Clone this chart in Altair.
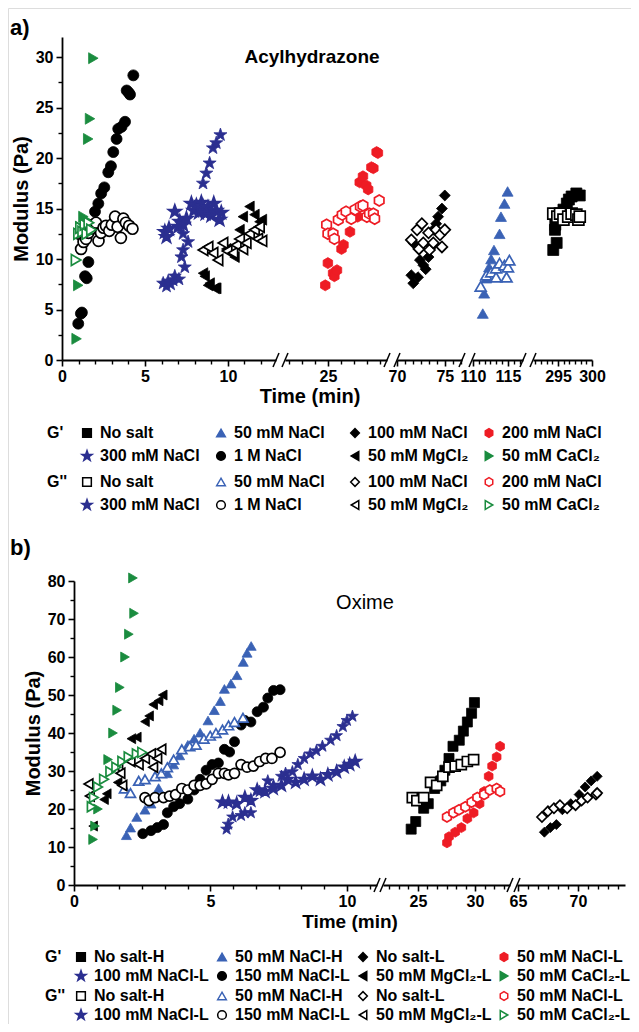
import altair as alt
import pandas as pd

# ------------------------------------------------------------------ data
A_LABELS = ["No salt", "50 mM NaCl", "100 mM NaCl", "200 mM NaCl",
            "300 mM NaCl", "1 M NaCl", "50 mM MgCl₂", "50 mM CaCl₂"]
B_LABELS = ["No salt-H", "50 mM NaCl-H", "No salt-L", "50 mM NaCl-L",
            "100 mM NaCl-L", "150 mM NaCl-L", "50 mM MgCl₂-L", "50 mM CaCl₂-L"]

# panel a (Acylhydrazone): (time min, modulus Pa)
a_gp_nosalt = [(294.3, 10.9), (294.55, 12.9), (294.6, 13.4), (294.8, 11.6), (295.3, 14.2), (295.8, 14.9),
               (296.3, 15.5), (296.6, 15.9), (297.0, 16.2), (297.7, 16.5), (298.2, 16.3)]
a_gpp_nosalt = [(294.3, 14.5), (294.9, 14.2), (295.3, 14.5), (295.8, 13.9), (296.5, 14.2), (297.0, 14.5),
                (297.7, 14.4), (298.0, 13.9), (298.2, 14.2)]
a_gp_50 = [(111.4, 4.6), (111.6, 6.6), (111.9, 8.1), (112.3, 9.2), (112.6, 10.0), (113.0, 10.9),
           (113.8, 12.5), (114.0, 14.2), (114.5, 15.5), (114.95, 16.7)]
a_gpp_50 = [(111.1, 7.3), (111.9, 8.4), (112.6, 8.7), (113.3, 8.2), (113.3, 9.1), (113.8, 9.6),
            (114.5, 9.4), (114.8, 8.2), (115.0, 9.2), (115.2, 9.9)]
a_gp_100 = [(71.5, 8.4), (71.7, 7.6), (71.7, 11.6), (72.2, 8.2), (72.4, 9.9), (72.75, 9.4), (73.0, 9.0),
            (73.3, 10.2), (73.6, 11.2), (73.8, 12.9), (74.1, 13.5), (74.3, 14.2), (74.7, 15.0), (75.0, 16.3)]
a_gpp_100 = [(71.5, 11.9), (72.1, 12.9), (72.3, 11.0), (72.6, 13.5), (72.75, 11.6), (73.3, 12.6),
             (73.4, 10.9), (73.8, 11.6), (74.1, 12.9), (74.5, 12.4), (74.7, 11.2), (75.0, 12.9)]
a_gp_200 = [(24.8, 7.4), (25.0, 9.6), (25.4, 8.6), (25.5, 8.3), (25.7, 8.9), (26.05, 11.0), (26.2, 11.4),
            (26.7, 12.7), (27.3, 14.2), (27.45, 17.6), (27.7, 18.2), (27.95, 17.3), (28.1, 16.9),
            (28.35, 19.1), (28.5, 19.0), (28.75, 20.6), (28.85, 20.5)]
a_gpp_200 = [(24.9, 13.4), (25.0, 12.5), (25.4, 12.5), (25.5, 12.0), (25.8, 13.9), (26.1, 14.4),
             (26.4, 14.7), (26.8, 14.0), (27.1, 14.9), (27.5, 15.2), (27.7, 15.3), (28.0, 14.2),
             (28.2, 14.5), (28.5, 14.5), (28.6, 14.0), (28.95, 15.8)]
a_gp_300 = [(6.1, 7.6), (6.3, 7.3), (6.4, 7.8), (6.55, 7.5), (6.7, 7.9), (6.8, 8.3), (7.05, 8.0),
            (7.2, 10.2), (7.3, 10.9), (7.3, 12.5), (7.4, 9.2), (7.6, 11.7), (8.5, 17.5), (8.7, 18.5),
            (8.9, 19.5), (9.1, 21.0), (9.3, 21.5), (9.55, 22.3)]
a_gpp_300 = [(6.2, 12.7), (6.3, 12.2), (6.45, 13.0), (6.8, 14.7), (7.0, 13.2), (7.1, 13.7), (7.3, 13.4),
             (7.5, 14.0), (7.8, 15.5), (7.95, 14.8), (8.1, 15.3), (8.25, 14.6), (8.4, 15.6), (8.5, 15.2),
             (8.65, 14.5), (8.8, 15.1), (9.0, 14.3), (9.15, 15.5), (9.3, 14.8), (9.5, 13.9), (9.6, 14.6)]
a_gp_1m = [(0.98, 3.6), (1.14, 4.6), (1.2, 4.7), (1.39, 8.3), (1.49, 8.1), (1.59, 9.7), (1.99, 14.7),
           (2.19, 15.5), (2.36, 16.5), (2.55, 17.1), (2.79, 18.6), (2.95, 19.2), (3.09, 20.6),
           (3.29, 21.9), (3.39, 22.9), (3.59, 23.1), (3.8, 23.6), (3.9, 26.7), (4.02, 26.5),
           (4.1, 26.3), (4.3, 28.2)]
a_gpp_1m = [(1.05, 12.5), (1.15, 11.0), (1.3, 11.7), (1.45, 12.0), (1.6, 12.6), (1.75, 13.0), (1.9, 13.4),
            (2.05, 13.6), (2.2, 11.8), (2.35, 12.6), (2.5, 13.1), (2.65, 13.3), (2.85, 12.8), (3.0, 13.4),
            (3.2, 14.2), (3.35, 13.2), (3.55, 12.1), (3.7, 14.0), (3.85, 13.6), (4.05, 13.3), (4.25, 13.0)]
a_gp_mgcl2 = [(8.5, 8.6), (8.6, 8.3), (8.8, 7.4), (8.9, 7.6), (9.2, 7.1), (9.3, 7.1), (9.9, 11.0),
              (10.4, 10.2), (10.7, 12.9), (10.9, 14.2), (11.3, 15.2), (11.6, 14.4), (11.9, 13.7),
              (12.05, 13.9)]
a_gpp_mgcl2 = [(8.5, 10.9), (8.8, 11.2), (9.1, 10.6), (9.4, 9.9), (9.7, 11.6), (9.95, 10.8), (10.3, 10.6),
               (10.5, 11.4), (10.7, 12.0), (10.9, 11.0), (11.1, 11.6), (11.3, 12.5), (11.6, 12.9),
               (11.8, 12.0), (11.9, 13.2), (12.05, 11.8)]
a_gp_cacl2 = [(0.88, 2.1), (0.98, 7.4), (1.1, 13.2), (1.29, 14.2), (1.45, 13.9), (1.58, 21.9),
              (1.69, 23.9), (1.89, 29.9)]
a_gpp_cacl2 = [(0.85, 9.9), (1.0, 12.5), (1.12, 13.1), (1.25, 12.7), (1.38, 13.4), (1.5, 12.5),
               (1.62, 13.6), (1.78, 12.9)]

# panel b (Oxime)
b_gp_nosalth = [(24.4, 14.7), (24.8, 16.7), (25.5, 20.2), (25.9, 21.4), (26.46, 25.4), (27.0, 27.4),
                (27.36, 30.2), (27.72, 33.3), (28.07, 36.5), (28.62, 38.1), (28.98, 40.5), (29.33, 42.9),
                (29.7, 45.2), (29.95, 48.0)]
b_gpp_nosalth = [(24.5, 23.0), (24.9, 22.2), (25.5, 23.0), (26.1, 27.0), (26.64, 26.2), (27.18, 28.6),
                 (27.72, 31.0), (28.26, 31.3), (28.8, 31.7), (29.33, 32.5), (29.88, 33.0)]
b_gp_50h = [(1.92, 13.1), (2.07, 15.1), (2.3, 17.9), (2.6, 19.8), (2.82, 21.4), (3.1, 25.5), (3.42, 29.4),
            (3.65, 31.7), (3.87, 34.1), (4.17, 36.9), (4.4, 38.5), (4.62, 40.1), (4.91, 43.3), (5.14, 46.0),
            (5.36, 48.4), (5.51, 51.6), (5.75, 53.0), (5.97, 55.2), (6.2, 58.7), (6.34, 61.1), (6.49, 62.9)]
b_gpp_50h = [(1.85, 25.4), (2.07, 24.2), (2.37, 27.4), (2.6, 27.8), (2.97, 28.6), (3.2, 29.4), (3.42, 31.0),
             (3.65, 33.0), (3.95, 35.7), (4.24, 36.5), (4.47, 36.9), (4.76, 38.5), (4.99, 39.3), (5.2, 40.0),
             (5.44, 40.9), (5.66, 42.0), (5.88, 42.9), (6.19, 44.0)]
b_gp_nosaltl = [(67.2, 13.9), (67.7, 15.1), (68.2, 15.9), (68.7, 19.8), (69.4, 21.4), (70.1, 23.8),
                (70.6, 25.8), (71.1, 27.4), (71.6, 28.6)]
b_gpp_nosaltl = [(67.0, 17.9), (67.5, 19.4), (68.0, 20.2), (68.5, 21.0), (69.1, 20.2), (69.8, 21.0),
                 (70.3, 22.2), (70.8, 23.0), (71.5, 23.8), (71.6, 24.2)]
b_gp_50l = [(27.54, 11.1), (27.72, 12.7), (28.26, 13.9), (28.8, 15.1), (29.33, 17.5), (29.88, 19.0),
            (30.4, 21.4), (30.8, 24.6), (31.2, 28.6), (31.5, 31.3), (31.9, 33.7), (32.2, 36.5)]
b_gpp_50l = [(27.54, 17.9), (28.1, 19.0), (28.6, 19.8), (29.15, 20.6), (29.7, 21.8), (30.2, 23.0),
             (30.8, 23.8), (31.3, 25.0), (31.9, 25.4), (32.2, 24.6)]
b_gp_100 = [(5.59, 14.7), (5.65, 16.0), (5.81, 17.9), (6.12, 18.3), (6.26, 19.0), (6.48, 19.0), (6.8, 24.6),
            (7.1, 27.4), (7.31, 26.2), (7.6, 28.6), (7.75, 29.4), (8.0, 29.8), (8.2, 31.7), (8.43, 33.3),
            (8.65, 34.5), (8.88, 35.3), (9.1, 36.5), (9.4, 38.1), (9.62, 39.3), (9.85, 41.7), (10.0, 43.3),
            (10.2, 44.4)]
b_gpp_100 = [(5.44, 21.8), (5.66, 21.8), (5.96, 21.4), (6.26, 23.0), (6.48, 22.2), (6.71, 25.0), (7.0, 24.6),
             (7.3, 25.4), (7.6, 26.2), (7.82, 27.8), (8.12, 27.0), (8.43, 27.8), (8.73, 28.6), (9.03, 27.8),
             (9.3, 29.0), (9.62, 29.8), (9.9, 31.0), (10.1, 31.7), (10.3, 32.5)]
b_gp_150 = [(2.52, 13.5), (2.82, 14.3), (3.05, 15.1), (3.28, 15.9), (3.42, 19.0), (3.65, 20.6), (3.87, 21.4),
            (4.17, 22.6), (4.4, 25.0), (4.62, 27.8), (4.84, 30.2), (5.06, 31.7), (5.29, 32.1), (5.51, 35.7),
            (5.7, 35.0), (5.88, 37.7), (6.12, 42.1), (6.26, 43.3), (6.48, 42.9), (6.71, 45.6), (6.94, 46.8),
            (7.1, 49.2), (7.31, 51.2), (7.55, 51.4)]
b_gpp_150 = [(2.6, 23.0), (2.75, 22.2), (2.97, 23.0), (3.28, 23.0), (3.5, 23.4), (3.72, 23.8), (3.95, 25.4),
             (4.17, 25.0), (4.4, 26.2), (4.62, 26.2), (4.84, 26.6), (5.06, 27.8), (5.29, 29.4), (5.51, 29.4),
             (5.66, 29.0), (5.88, 29.4), (6.12, 31.7), (6.34, 31.0), (6.57, 31.3), (6.8, 32.5), (7.02, 33.3),
             (7.25, 33.3), (7.55, 34.9)]
b_gp_mgcl2 = [(0.7, 15.5), (1.1, 22.5), (1.2, 24.0), (1.6, 27.0), (2.1, 38.5), (2.3, 38.9), (2.6, 43.0),
              (2.75, 44.5), (2.9, 47.5), (3.1, 48.5), (3.25, 50.0)]
b_gpp_mgcl2 = [(0.53, 26.6), (0.58, 23.4), (1.62, 31.0), (1.7, 29.4), (1.77, 26.2), (2.07, 32.5),
               (2.37, 31.7), (2.6, 33.3), (2.82, 34.5), (2.9, 31.0), (3.05, 33.3), (3.2, 35.7)]
b_gp_cacl2 = [(0.7, 12.0), (0.77, 15.5), (0.88, 20.0), (1.25, 33.0), (1.43, 40.0), (1.58, 46.0),
              (1.68, 52.0), (1.87, 60.0), (2.01, 66.0), (2.2, 71.5), (2.16, 80.8)]
b_gpp_cacl2 = [(0.65, 20.6), (0.73, 23.0), (0.88, 25.8), (1.1, 27.8), (1.33, 29.8), (1.55, 31.0),
               (1.77, 32.5), (2.0, 33.7), (2.3, 34.5), (2.5, 34.9)]

A_GP = [a_gp_nosalt, a_gp_50, a_gp_100, a_gp_200, a_gp_300, a_gp_1m, a_gp_mgcl2, a_gp_cacl2]
A_GPP = [a_gpp_nosalt, a_gpp_50, a_gpp_100, a_gpp_200, a_gpp_300, a_gpp_1m, a_gpp_mgcl2, a_gpp_cacl2]
B_GP = [b_gp_nosalth, b_gp_50h, b_gp_nosaltl, b_gp_50l, b_gp_100, b_gp_150, b_gp_mgcl2, b_gp_cacl2]
B_GPP = [b_gpp_nosalth, b_gpp_50h, b_gpp_nosaltl, b_gpp_50l, b_gpp_100, b_gpp_150, b_gpp_mgcl2, b_gpp_cacl2]

# ------------------------------------------------------------------ styles / layout
W, H = 623, 1016
FONT = "Liberation Sans"
STAR = ("M0,-1.25L0.294,-0.405L1.189,-0.386L0.475,0.155L0.735,1.011L0,0.5L-0.735,1.011"
        "L-0.475,0.155L-1.189,-0.386L-0.294,-0.405Z")
HEX = "M0,-1L0.866,-0.5L0.866,0.5L0,1L-0.866,0.5L-0.866,-0.5Z"
SHAPES = ["square", "triangle-up", "diamond", HEX, STAR, "circle", "triangle-left", "triangle-right"]
BLACK, BLUE, RED, NAVY, GREEN = "#000000", "#3a62b5", "#ee1c24", "#2b2f90", "#1a8c3f"
COLORS = [BLACK, BLUE, BLACK, RED, NAVY, BLACK, BLACK, GREEN]
OPEN_FILLS = ["white", "white", "white", "white", NAVY, "white", "white", "white"]


def minors(lo, hi, base, step, nper):
    out = []
    for k in range(-40, 40):
        val = base + k * step
        if lo - 1e-6 <= val <= hi + 1e-6 and k % nper != 0:
            out.append(round(val, 4))
    return out


A_SEGS = [
    dict(domain=[0, 12.9], rng=[54, 268], major=[0, 5, 10], minor=minors(0, 12.9, 0, 1, 5)),
    dict(domain=[21.7, 29.55], rng=[277, 379], major=[25], minor=minors(21.7, 29.55, 25, 1, 5)),
    dict(domain=[70, 76.8], rng=[389, 454], major=[70, 75], minor=minors(70, 76.8, 70, 5 / 6, 6)),
    dict(domain=[109.86, 117.15], rng=[464, 515], major=[110, 115], minor=minors(109.86, 117.15, 110, 5 / 6, 6)),
    dict(domain=[291.32, 300], rng=[525, 584], major=[295, 300], minor=minors(291.32, 300, 295, 5 / 6, 6)),
]
B_SEGS = [
    dict(domain=[0, 11.1], rng=[66, 369], major=[0, 5, 10], minor=minors(0, 11.1, 0, 5 / 6, 6)),
    dict(domain=[21.93, 33.07], rng=[375, 502], major=[25, 30], minor=minors(21.93, 33.07, 25, 5 / 6, 6)),
    dict(domain=[64.92, 73.92], rng=[509, 617], major=[65, 70], minor=minors(64.92, 73.92, 65, 5 / 6, 6)),
]
A_Y = dict(domain=[0, 32], rng=[352, 29], major=[0, 5, 10, 15, 20, 25, 30],
           minor=[2.5, 7.5, 12.5, 17.5, 22.5, 27.5], xoff=352 - H, yoff=-54)
B_Y = dict(domain=[0, 80], rng=[877, 573], major=[0, 10, 20, 30, 40, 50, 60, 70, 80],
           minor=[5, 15, 25, 35, 45, 55, 65, 75], xoff=877 - H, yoff=-66)

# ------------------------------------------------------------------ table
rows = []
for panel, kind, labels, series, segs in [("a", "gp", A_LABELS, A_GP, A_SEGS), ("a", "gpp", A_LABELS, A_GPP, A_SEGS),
                                          ("b", "gp", B_LABELS, B_GP, B_SEGS), ("b", "gpp", B_LABELS, B_GPP, B_SEGS)]:
    for lab, pts in zip(labels, series):
        for t, v in pts:
            seg = next(i for i, s in enumerate(segs) if s["domain"][0] - 0.5 <= t <= s["domain"][1] + 0.5)
            rows.append({"panel": panel, "kind": kind, "series": lab, "seg": seg, "t": t, "v": v})
df = pd.DataFrame(rows)

AXIS_LABEL = dict(labelFont=FONT, labelFontSize=16, labelFontWeight="bold", labelColor="black")


def make_legend(title, x, y, size, colpad, rowpad, tpad):
    return alt.Legend(
        title=title, orient="none", legendX=x, legendY=y, columns=4, direction="horizontal",
        titleOrient="left", titleAnchor="start", titleBaseline="top", titleAlign="left", titlePadding=tpad,
        titleFont=FONT, titleFontSize=size, titleFontWeight="bold", titleColor="black",
        labelFont=FONT, labelFontSize=size, labelFontWeight="bold", labelColor="black",
        labelOffset=5, labelLimit=400, symbolSize=75, symbolStrokeWidth=1.5, symbolOpacity=1,
        gridAlign="all", columnPadding=colpad, rowPadding=rowpad, padding=0,
    )


def panel_layers(panel, segs, ycfg, labels, size, leg_gp, leg_gpp):
    layers = []
    for i, seg in enumerate(segs):
        for kind in ("gp", "gpp"):
            major = kind == "gp"
            xs = alt.Scale(domain=seg["domain"], range=seg["rng"], nice=False, zero=False)
            ys = alt.Scale(domain=ycfg["domain"], range=ycfg["rng"], nice=False, zero=False)
            if major:
                xaxis = alt.Axis(values=seg["major"], orient="bottom", offset=ycfg["xoff"], title=None,
                                 grid=False, format="d", labelFlush=False, labelOverlap=False,
                                 labelPadding=2, tickSize=6, tickWidth=1.6, tickColor="black",
                                 domainColor="black", domainWidth=1.8, **AXIS_LABEL)
            else:
                xaxis = alt.Axis(values=seg["minor"], orient="bottom", offset=ycfg["xoff"], title=None,
                                 grid=False, labels=False, domain=False, tickSize=4, tickWidth=1.4,
                                 tickColor="black")
            if i == 0 and major:
                yaxis = alt.Axis(values=ycfg["major"], orient="left", offset=ycfg["yoff"], title="Modulus (Pa)",
                                 titleFont=FONT, titleFontSize=20, titleFontWeight="bold", titleColor="black",
                                 titlePadding=4, grid=False, format="d", labelFlush=False, labelOverlap=False,
                                 labelPadding=3, tickSize=6, tickWidth=1.6, tickColor="black",
                                 domainColor="black", domainWidth=1.8, **AXIS_LABEL)
            elif i == 0:
                yaxis = alt.Axis(values=ycfg["minor"], orient="left", offset=ycfg["yoff"], title=None,
                                 grid=False, labels=False, domain=False, tickSize=4, tickWidth=1.4,
                                 tickColor="black")
            else:
                yaxis = None
            leg = (leg_gp if major else leg_gpp) if i == 0 else None
            fills = COLORS if major else OPEN_FILLS
            layer = alt.Chart(df).transform_filter(
                f"datum.panel === '{panel}' && datum.seg === {i} && datum.kind === '{kind}'"
            ).mark_point(filled=True, opacity=1, size=size, strokeWidth=0.8 if major else 1.7).encode(
                x=alt.X("t:Q", scale=xs, axis=xaxis),
                y=alt.Y("v:Q", scale=ys, axis=yaxis),
                shape=alt.Shape("series:N", scale=alt.Scale(domain=labels, range=SHAPES), legend=leg),
                fill=alt.Fill("series:N", scale=alt.Scale(domain=labels, range=fills), legend=leg),
                stroke=alt.Stroke("series:N", scale=alt.Scale(domain=labels, range=COLORS), legend=leg),
            )
            layers.append(layer)
    return layers


def text_layer(s, x, y, size, weight="bold", align="center"):
    return alt.Chart(pd.DataFrame({"k": [0]})).mark_text(
        text=s, font=FONT, fontSize=size, fontWeight=weight, align=align, baseline="middle", color="black"
    ).encode(x=alt.value(x), y=alt.value(y))


def slash_layer(x, y):
    return alt.Chart(pd.DataFrame({"k": [0]})).mark_rule(color="black", strokeWidth=1.5).encode(
        x=alt.value(x - 3), x2=alt.value(x + 3), y=alt.value(y + 7), y2=alt.value(y - 7)
    )


layers = []
layers += panel_layers("a", A_SEGS, A_Y, A_LABELS, 120,
                       make_legend("G'", 39, 417, 16, 12, 6, 15), make_legend("G''", 39, 466, 16, 12, 6, 11))
layers += panel_layers("b", B_SEGS, B_Y, B_LABELS, 100,
                       make_legend("G'", 37, 941, 16, 4, 2, 11), make_legend("G''", 37, 980, 16, 4, 2, 7))

for segs, ycfg in [(A_SEGS, A_Y), (B_SEGS, B_Y)]:
    ypix = ycfg["rng"][0]
    for left, right in zip(segs[:-1], segs[1:]):
        layers.append(slash_layer(left["rng"][1], ypix))
        layers.append(slash_layer(right["rng"][0], ypix))

layers += [
    text_layer("a)", 2, 20, 22, align="left"),
    text_layer("Acylhydrazone", 304, 49, 19),
    text_layer("Time (min)", 302, 389, 20),
    text_layer("b)", 2, 540, 22, align="left"),
    text_layer("Oxime", 357, 595, 20, weight="normal"),
    text_layer("Time (min)", 342, 914, 19),
]

chart = alt.layer(*layers).resolve_scale(
    x="independent", y="independent", shape="independent", fill="independent", stroke="independent"
).resolve_axis(x="independent", y="independent").resolve_legend(
    shape="independent", fill="independent", stroke="independent"
).properties(
    width=W, height=H, autosize=alt.AutoSizeParams(type="none"), padding=0
).configure_view(stroke=None).configure(font=FONT)

chart.save("out.html", embed_options={"renderer": "svg", "actions": False})
